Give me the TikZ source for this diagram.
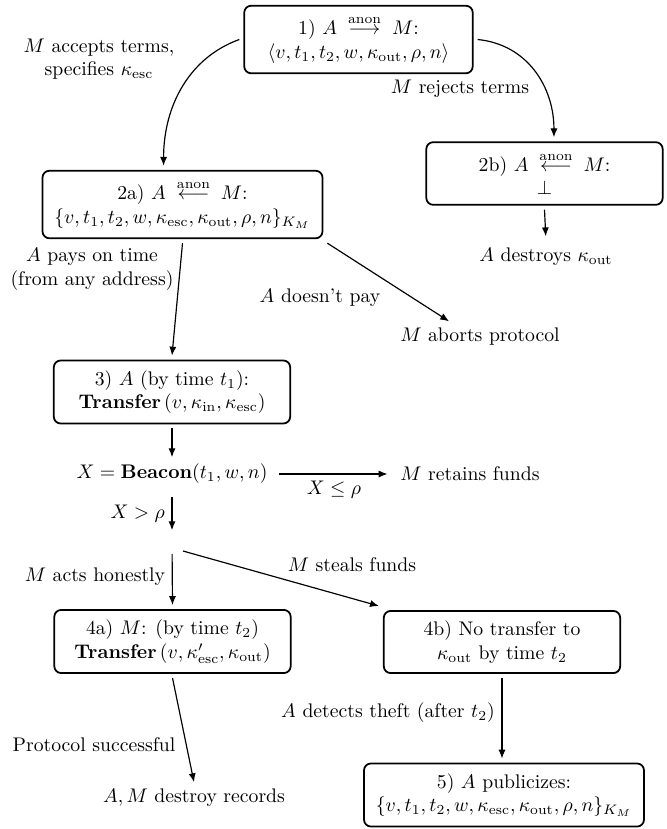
\documentclass[tikz,border=0pt]{standalone}
\usepackage{amsmath}
\usetikzlibrary{arrows.meta,calc}
\newcommand{\anonarrow}[1]{\mathrel{\;\stackrel{\text{anon}}{#1}\;}}
\begin{document}
\begin{tikzpicture}[x=0.5076pt,y=-0.5076pt,
  box/.style={draw, line width=0.9pt, rounded corners=3.5pt, align=center,
    minimum width=120pt, inner xsep=6pt, inner ysep=5pt, outer sep=2.5pt},
  lbl/.style={align=center, inner sep=3.33pt},
  arr/.style={-{Latex[length=4.5pt,width=3.6pt]}, line width=0.6pt},
]
\useasboundingbox (0,0) rectangle (667,829);

% boxes
\node[box, minimum width=116pt] (b1) at (358.5,39.5)
  {1) $A \anonarrow{\longrightarrow} M$:\\
   $\langle v, t_1, t_2, w, \kappa_{\text{out}}, \rho, n\rangle$};
\node[box] (b2a) at (182.5,204.5)
  {2a) $A \anonarrow{\longleftarrow} M$:\\
   $\{v, t_1, t_2, w, \kappa_{\text{esc}}, \kappa_{\text{out}}, \rho, n\}_{K_M}$};
\node[box] (b2b) at (544.5,173.5)
  {2b) $A \anonarrow{\longleftarrow} M$:\\ $\perp$};
\node[box] (b3) at (172,392)
  {3) $A$ (by time $t_1$):\\
   \textbf{Transfer}$\,(v, \kappa_{\text{in}}, \kappa_{\text{esc}})$};
\node[box] (b4a) at (172.5,641.5)
  {4a) $M$: (by time $t_2$)\\
   \textbf{Transfer}$\,(v, \kappa'_{\text{esc}}, \kappa_{\text{out}})$};
\node[box] (b4b) at (502,642)
  {4b) No transfer to\\ $\kappa_{\text{out}}$ by time $t_2$};
\node[box] (b5) at (504,795)
  {5) $A$ publicizes:\\
   $\{v, t_1, t_2, w, \kappa_{\text{esc}}, \kappa_{\text{out}}, \rho, n\}_{K_M}$};

% plain text nodes
\node[lbl] (accepts) at (99,59) {$M$ accepts terms,\\ specifies $\kappa_{\text{esc}}$};
\node[lbl] (rejects) at (460,89) {$M$ rejects terms};
\node[lbl] (destroysk) at (546,257) {$A$ destroys $\kappa_{\text{out}}$};
\node[lbl] (pays) at (92,269) {$A$ pays on time\\ (from any address)};
\node[lbl] (doesnt) at (320,298) {$A$ doesn't pay};
\node[lbl] (aborts) at (480,337) {$M$ aborts protocol};
\node[lbl] (beacon) at (172,474) {$X = \mathbf{Beacon}(t_1, w, n)$};
\node[lbl] (retains) at (470,474) {$M$ retains funds};
\node[lbl] (steals) at (352,565) {$M$ steals funds};
\node[lbl] (success) at (94,745) {Protocol successful};
\node[lbl] (records) at (194,798) {$A, M$ destroy records};
\coordinate (split) at (172,542);

% connectors
\draw[arr] (b1.west) .. controls +(-50,18) and +(0,-60) .. ([xshift=-9.6pt]b2a.north);
\draw[arr] (b1.east) .. controls +(50,5) and +(0,-50) .. ([xshift=4.8pt]b2b.north);
\draw[arr, shorten >=2.5pt] (b2b.south) -- (destroysk.north);
\draw[arr] (b2a.south) -- (b3.north);
\draw[arr] (b2a.south east) -- ([xshift=-15.7pt]aborts.north);
\draw[arr] (b3.south) -- (beacon.north);
\draw[arr, shorten <=2.5pt, shorten >=3pt] (beacon.east) -- (retains.west)
  node[midway, below, lbl] (le) {$X \leq \rho$};
\draw[arr, shorten <=3pt, shorten >=6pt] (beacon.south) -- (split)
  node[pos=0.45, left, lbl] (gt) {$X > \rho$};
\draw[arr, shorten <=6pt] (split) -- (b4a.north)
  node[pos=0.55, left, lbl] (honest) {$M$ acts honestly};
\draw[arr] ($(split)+(11,9)$) -- (b4b.north west);
\draw[arr] (b4a.south) -- (records.north);
\draw[arr] (b4b.south) -- (b4b.south |- b5.north)
  node[pos=0.43, left, lbl] (detects) {$A$ detects theft (after $t_2$)};
\end{tikzpicture}
\end{document}
